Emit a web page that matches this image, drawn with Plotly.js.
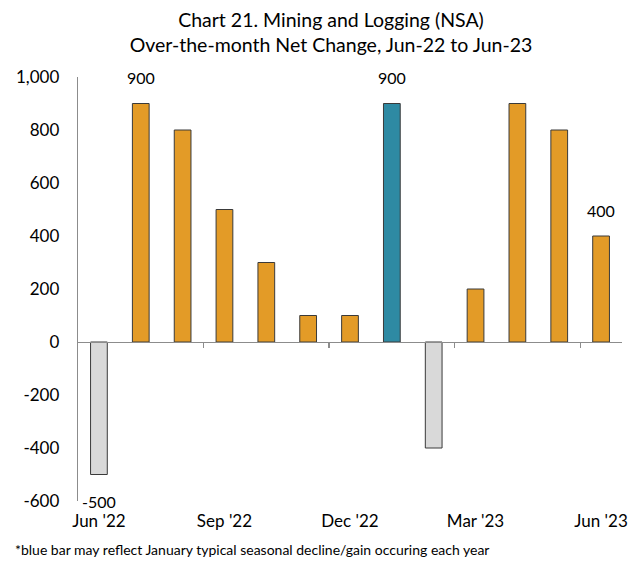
<!DOCTYPE html>
<html>
<head>
<meta charset="utf-8">
<script src="https://cdn.plot.ly/plotly-3.0.1.min.js"></script>
<style>html,body{margin:0;padding:0;background:#fff;}#chart{width:639px;height:565px;}</style>
</head>
<body>
<div id="chart"></div>
<script>
const months = ["Jun '22","Jul '22","Aug '22","Sep '22","Oct '22","Nov '22","Dec '22","Jan '23","Feb '23","Mar '23","Apr '23","May '23","Jun '23"];
const values = [-500, 900, 800, 500, 300, 100, 100, 900, -400, 200, 900, 800, 400];
const barColors = ["#D9D9D9","#E39B27","#E39B27","#E39B27","#E39B27","#E39B27","#E39B27","#2E8AA3","#D9D9D9","#E39B27","#E39B27","#E39B27","#E39B27"];
const valueLabels = ["-500","900","","","","","","900","","","","","400"];
const tickIdx = [0, 3, 6, 9, 12];
const tickLabels = ["Jun '22","Sep '22","Dec '22","Mar '23","Jun '23"];
const yTicks = [-600, -400, -200, 0, 200, 400, 600, 800, 1000];
const yTickLabels = ["-600","-400","-200","0","200","400","600","800","1,000"];
const boundaryTicks = [2.5, 5.5, 8.5, 11.5];
const footnote = "*blue bar may reflect January typical seasonal decline/gain occuring each year";

const FONT = "Lato, 'Open Sans', sans-serif";
const idx = months.map((m, i) => i);

const traces = [
  {
    type: 'bar', x: idx, y: values, xaxis: 'x', yaxis: 'y',
    width: 0.4,
    marker: {color: barColors, line: {color: '#3a3a3a', width: 1}},
    hoverinfo: 'skip'
  },
  {
    type: 'scatter', mode: 'markers', x: idx, y: values, xaxis: 'x2', yaxis: 'y',
    marker: {opacity: 0}, hoverinfo: 'skip', showlegend: false
  }
];

const annotations = [];
values.forEach((v, i) => {
  if (valueLabels[i]) {
    annotations.push({
      x: i, y: v, xref: 'x', yref: 'y', text: valueLabels[i], showarrow: false,
      yanchor: 'middle', xanchor: 'center', yshift: v >= 0 ? 26 : -27,
      font: {family: FONT, size: 16, color: '#000'}
    });
  }
});
annotations.push({
  xref: 'paper', yref: 'paper', x: -0.12, y: -0.115, xanchor: 'left', yanchor: 'middle',
  text: footnote, showarrow: false, font: {family: FONT, size: 14, color: '#000'}
});

const layout = {
  width: 639, height: 565,
  margin: {l: 78, r: 17, t: 77, b: 64},
  paper_bgcolor: '#fff', plot_bgcolor: '#fff',
  showlegend: false,
  font: {family: FONT, color: '#000'},
  title: {
    text: 'Chart 21. Mining and Logging (NSA)<br>Over-the-month Net Change, Jun-22 to Jun-23',
    x: 0.518, xref: 'container', xanchor: 'center',
    y: 0.953, yref: 'container', yanchor: 'top',
    font: {family: FONT, size: 19.5, color: '#000'}
  },
  xaxis: {
    range: [-0.5, 12.5], tickvals: tickIdx, ticktext: tickLabels,
    showline: false, showgrid: false, zeroline: false, ticks: '',
    ticklabelstandoff: 8,
    tickfont: {family: FONT, size: 17, color: '#000'}
  },
  xaxis2: {
    overlaying: 'x', anchor: 'free', position: 0.375, side: 'bottom',
    range: [-0.5, 12.5], tickvals: boundaryTicks, showticklabels: false,
    showline: true, linecolor: '#8c8c8c', linewidth: 1.3,
    ticks: 'outside', ticklen: 5, tickcolor: '#8c8c8c', tickwidth: 1.3,
    showgrid: false, zeroline: false
  },
  yaxis: {
    range: [-600, 1000], tickvals: yTicks, ticktext: yTickLabels,
    showline: true, linecolor: '#8c8c8c', linewidth: 1.3,
    showgrid: false, zeroline: false, ticks: '',
    ticklabelstandoff: 14,
    tickfont: {family: FONT, size: 17, color: '#000'}
  },
  annotations: annotations,
  bargap: 0.6
};

Plotly.newPlot('chart', traces, layout, {displayModeBar: false, staticPlot: true});
</script>
</body>
</html>
